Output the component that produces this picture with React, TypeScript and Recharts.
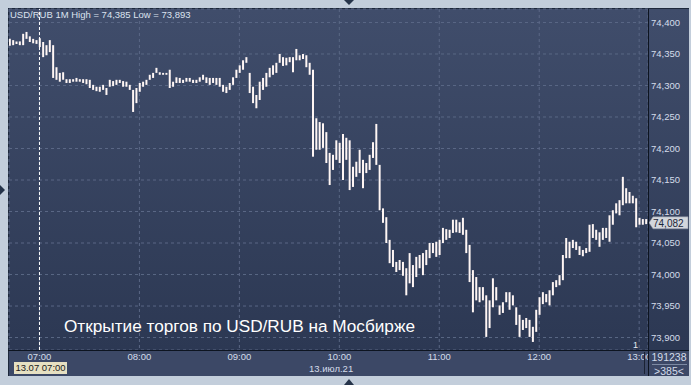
import React from 'react';
import { ComposedChart, Bar, XAxis, YAxis, CartesianGrid, ReferenceLine } from 'recharts';

// 2-minute range bars, first bar at 06:42 (minutes counted from 07:00)
const startMinute = -18;
const stepMinutes = 2;

const highs = [
  74.374, 74.372, 74.370, 74.370, 74.382, 74.385, 74.378, 74.374, 74.372, 74.375,
  74.369, 74.364, 74.372, 74.364, 74.329, 74.320, 74.321, 74.310, 74.310, 74.310,
  74.312, 74.310, 74.310, 74.310, 74.309, 74.301, 74.298, 74.298, 74.301, 74.296,
  74.309, 74.307, 74.309, 74.309, 74.307, 74.306, 74.301, 74.293, 74.296, 74.304,
  74.306, 74.309, 74.317, 74.320, 74.328, 74.321, 74.320, 74.320, 74.325, 74.306,
  74.313, 74.312, 74.309, 74.312, 74.312, 74.309, 74.309, 74.313, 74.317, 74.313,
  74.312, 74.312, 74.312, 74.312, 74.301, 74.298, 74.304, 74.313, 74.325, 74.332,
  74.340, 74.345, 74.320, 74.298, 74.285, 74.306, 74.312, 74.320, 74.328, 74.332,
  74.336, 74.350, 74.345, 74.344, 74.345, 74.345, 74.358, 74.348, 74.350, 74.348,
  74.336, 74.325, 74.248, 74.242, 74.240, 74.226, 74.193, 74.190, 74.213, 74.209,
  74.223, 74.217, 74.213, 74.171, 74.179, 74.198, 74.182, 74.177, 74.190, 74.210,
  74.239, 74.174, 74.105, 74.091, 74.055, 74.039, 74.020, 74.023, 74.020, 74.010,
  74.034, 74.015, 74.028, 74.031, 74.034, 74.039, 74.050, 74.050, 74.052, 74.055,
  74.074, 74.072, 74.071, 74.087, 74.087, 74.083, 74.090, 74.071, 74.047, 74.007,
  73.996, 73.980, 73.980, 73.967, 73.959, 73.994, 73.980, 73.951, 73.956, 73.972,
  73.972, 73.967, 73.948, 73.936, 73.928, 73.931, 73.928, 73.917, 73.944, 73.964,
  73.972, 73.969, 73.975, 73.988, 73.991, 73.999, 74.031, 74.058, 74.052, 74.055,
  74.052, 74.045, 74.039, 74.042, 74.079, 74.080, 74.071, 74.067, 74.074, 74.074,
  74.094, 74.102, 74.113, 74.118, 74.155, 74.137, 74.131, 74.125, 74.121, 74.090,
  74.088, 74.088,
];

const lows = [
  74.363, 74.364, 74.366, 74.364, 74.364, 74.374, 74.369, 74.367, 74.366, 74.361,
  74.345, 74.348, 74.353, 74.312, 74.309, 74.306, 74.309, 74.304, 74.304, 74.306,
  74.306, 74.306, 74.304, 74.302, 74.296, 74.293, 74.291, 74.290, 74.293, 74.285,
  74.298, 74.299, 74.301, 74.304, 74.298, 74.298, 74.293, 74.258, 74.272, 74.290,
  74.298, 74.301, 74.309, 74.312, 74.320, 74.317, 74.317, 74.317, 74.296, 74.298,
  74.304, 74.304, 74.304, 74.306, 74.306, 74.304, 74.304, 74.306, 74.309, 74.304,
  74.301, 74.304, 74.301, 74.298, 74.290, 74.288, 74.293, 74.301, 74.312, 74.320,
  74.325, 74.336, 74.288, 74.272, 74.264, 74.277, 74.293, 74.298, 74.313, 74.317,
  74.320, 74.336, 74.331, 74.332, 74.337, 74.321, 74.340, 74.340, 74.342, 74.329,
  74.317, 74.187, 74.198, 74.198, 74.201, 74.177, 74.142, 74.166, 74.182, 74.177,
  74.150, 74.182, 74.134, 74.139, 74.155, 74.161, 74.137, 74.161, 74.166, 74.185,
  74.174, 74.102, 74.082, 74.050, 74.018, 74.012, 74.004, 74.007, 73.998, 73.967,
  73.986, 73.980, 73.996, 74.010, 73.999, 74.015, 74.026, 74.034, 74.028, 74.031,
  74.050, 74.055, 74.058, 74.066, 74.067, 74.066, 74.063, 74.034, 73.988, 73.940,
  73.959, 73.956, 73.959, 73.901, 73.915, 73.948, 73.959, 73.936, 73.939, 73.956,
  73.944, 73.951, 73.920, 73.901, 73.912, 73.915, 73.901, 73.893, 73.909, 73.936,
  73.953, 73.956, 73.951, 73.967, 73.980, 73.983, 73.991, 74.026, 74.026, 74.042,
  74.039, 74.031, 74.029, 74.034, 74.036, 74.058, 74.055, 74.044, 74.055, 74.058,
  74.052, 74.079, 74.097, 74.094, 74.110, 74.113, 74.113, 74.113, 74.075, 74.079,
  74.079, 74.080,
];

const hourTicks = [0, 60, 120, 180, 240, 300, 360];
const hourLabels = ['07:00', '08:00', '09:00', '10:00', '11:00', '12:00', '13:00'];
const priceTicks = [73.9, 73.95, 74.0, 74.05, 74.1, 74.15, 74.2, 74.25, 74.3, 74.35, 74.4];

const lastPrice = 74.082;
const headerText = 'USD/RUB 1M High = 74,385 Low = 73,893';
const caption = 'Открытие торгов по USD/RUB на Мосбирже';
const cursorLabel = '13.07 07:00';
const dateLabel = '13.июл.21';
const volumeLabel = '191238';
const barCountLabel = '>385<';

const data = highs.map((h, i) => ({
  t: startMinute + i * stepMinutes,
  range: [lows[i], h],
}));

const FONT = '"Liberation Sans", Arial, sans-serif';
const AXIS_TEXT = '#d4dcea';

const fmtPrice = (v: number) => v.toFixed(3).replace('.', ',');

const PriceTag = (props: any) => {
  const vb = props.viewBox || {};
  const x = vb.x + vb.width;
  const y = vb.y;
  return (
    <g>
      <path
        d={`M${x + 1},${y} L${x + 5},${y - 6} L${x + 40},${y - 6} L${x + 40},${y + 6} L${x + 5},${y + 6} Z`}
        fill="#d3d6dc"
        stroke="#8a93a3"
        strokeWidth={0.5}
      />
      <text x={x + 5} y={y + 4} fontSize={10} fill="#1c2638" fontFamily={FONT}>
        {fmtPrice(lastPrice)}
      </text>
    </g>
  );
};

const abs = (s: React.CSSProperties): React.CSSProperties => ({ position: 'absolute', ...s });

export default function App() {
  return (
    <div style={abs({ left: 0, top: 0, width: 691, height: 385, background: '#c3cedb', overflow: 'hidden', fontFamily: FONT })}>
      {/* panel */}
      <div style={abs({ left: 8, top: 8, width: 681, height: 368, background: '#3c4866', borderTop: '1px solid #1d283b', borderLeft: '1px solid #1d283b', boxSizing: 'border-box' })} />
      <div style={abs({ left: 9, top: 9, width: 680, height: 341, background: 'linear-gradient(#404d6b, #2c3853)' })} />

      <div style={abs({ left: 0, top: 0 })}>
        <ComposedChart width={691} height={385} data={data} margin={{ top: 9, right: 2, bottom: 9, left: 9 }}>
          <CartesianGrid stroke="#5a6785" strokeDasharray="3 3" />
          <XAxis
            dataKey="t"
            type="number"
            domain={[-18.3, 365.3]}
            ticks={hourTicks}
            interval={0}
            tickFormatter={(v: number) => hourLabels[hourTicks.indexOf(v)]}
            axisLine={false}
            tickLine={false}
            tickSize={0}
            tickMargin={3}
            height={26}
            allowDataOverflow
            tick={{ fill: AXIS_TEXT, fontSize: 9.5, fontFamily: FONT }}
          />
          <YAxis
            orientation="right"
            type="number"
            domain={[73.8802, 74.4214]}
            ticks={priceTicks}
            interval={0}
            tickFormatter={fmtPrice}
            axisLine={false}
            tickLine={false}
            tickSize={0}
            tickMargin={3}
            width={41}
            allowDataOverflow
            tick={{ fill: AXIS_TEXT, fontSize: 9.5, fontFamily: FONT, textAnchor: 'start' }}
          />
          <ReferenceLine x={0} stroke="#ffffff" strokeDasharray="3 2" strokeWidth={1} />
          <Bar dataKey="range" fill="#fff6f4" barSize={2} isAnimationActive={false} />
          <ReferenceLine y={lastPrice} stroke="none" label={(p: any) => <PriceTag {...p} />} />
        </ComposedChart>
      </div>

      {/* right-bottom corner box hides the clipped 13:00 label */}
      <div style={abs({ left: 649, top: 351, width: 40, height: 25, background: '#3c4866' })} />

      {/* frame lines */}
      <div style={abs({ left: 8, top: 350, width: 681, height: 1, background: '#0d1420' })} />
      <div style={abs({ left: 648, top: 9, width: 1, height: 367, background: '#0d1420' })} />
      <div style={abs({ left: 644, top: 352, width: 1, height: 22, background: '#1a2233' })} />

      {/* header & caption */}
      <div style={abs({ left: 10, top: 9, fontSize: 9.5, color: '#dbe2ee', whiteSpace: 'nowrap', lineHeight: '11px' })}>{headerText}</div>
      <div style={abs({ left: 64, top: 316, fontSize: 17.2, color: '#ffffff', whiteSpace: 'nowrap', lineHeight: '21px' })}>{caption}</div>
      <div style={abs({ left: 633, top: 340, fontSize: 9, color: '#e8ecf4', lineHeight: '10px' })}>1</div>

      {/* bottom strip texts */}
      <div style={abs({ left: 14, top: 362, width: 53, height: 12, background: '#e6e0c2', color: '#1a1a1a', fontSize: 9.5, lineHeight: '12px', textAlign: 'center', whiteSpace: 'nowrap' })}>{cursorLabel}</div>
      <div style={abs({ left: 309, top: 364, fontSize: 9.5, color: AXIS_TEXT, lineHeight: '10px', whiteSpace: 'nowrap' })}>{dateLabel}</div>

      {/* right strip texts */}
      <div style={abs({ left: 649, top: 352, width: 40, fontSize: 10.5, color: AXIS_TEXT, lineHeight: '11px', textAlign: 'center' })}>{volumeLabel}</div>
      <div style={abs({ left: 652, top: 364, width: 35, height: 1, background: '#7d8aa3' })} />
      <div style={abs({ left: 649, top: 366, width: 40, fontSize: 10.5, color: AXIS_TEXT, lineHeight: '11px', textAlign: 'center' })}>{barCountLabel}</div>

      {/* scroll arrows */}
      <svg style={abs({ left: 0, top: 0 })} width={691} height={385}>
        <path d="M344,0 L354,0 L349,5 Z" fill="#26344a" />
        <path d="M0,185 L5,190 L0,195 Z" fill="#26344a" />
        <path d="M344,385 L354,385 L349,379 Z" fill="#26344a" />
      </svg>
    </div>
  );
}
